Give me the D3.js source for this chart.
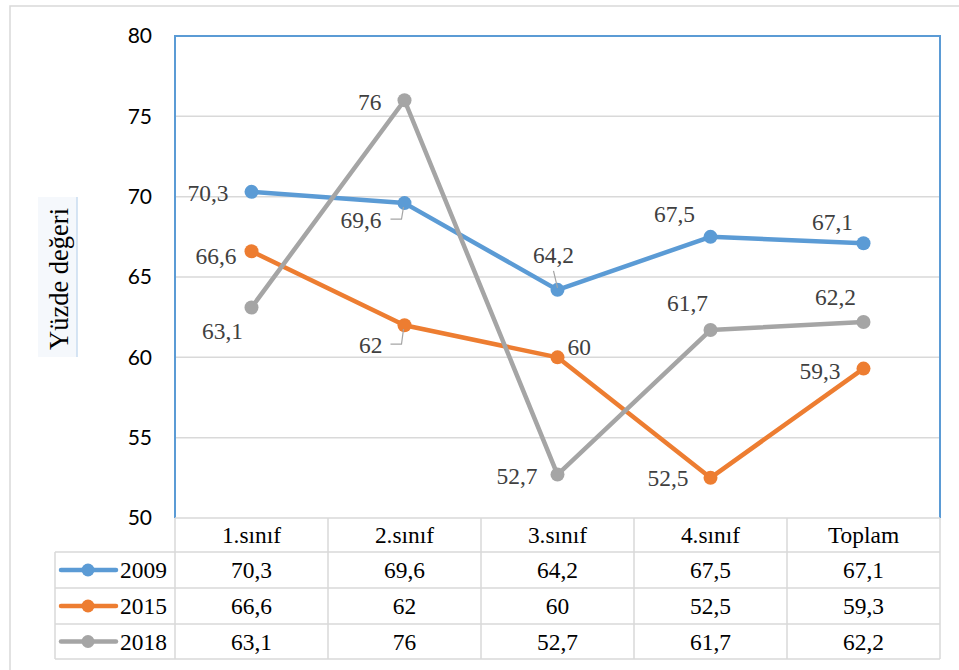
<!DOCTYPE html>
<html><head><meta charset="utf-8">
<script src="https://cdn.jsdelivr.net/npm/d3@7"></script>
<style>html,body{margin:0;padding:0;background:#fff;}svg{display:block;}
.serif{font-family:"Liberation Serif","Times New Roman","DejaVu Serif",serif;}
.sans{font-family:Lato,"Open Sans",sans-serif;}
</style>
</head><body>
<svg id="chart" width="959" height="670"></svg>
<script>
// ---- data ----
const categories = ["1.sınıf", "2.sınıf", "3.sınıf", "4.sınıf", "Toplam"];
const seriesNames = ["2009", "2015", "2018"];
const values2009 = [70.3, 69.6, 64.2, 67.5, 67.1];
const values2015 = [66.6, 62, 60, 52.5, 59.3];
const values2018 = [63.1, 76, 52.7, 61.7, 62.2];
const yTicks = [50, 55, 60, 65, 70, 75, 80];
const yTitle = "Yüzde değeri";

// ---- styling / label placement (not data) ----
const colors = ["#5b9bd5", "#ed7d31", "#a5a5a5"];
const labelPlace = [
  [[-23, 1, "end"], [-23, 17, "end", "h"], [-4, -35, "middle", "v"], [-36, -23, "middle"], [-31, -21, "middle"]],
  [[-15, 5, "end"], [-22, 20, "end", "h"], [10, -10, "start"], [-22, 0, "end"], [-23, 2, "end"]],
  [[-29, 23, "middle"], [-23, 2, "end"], [-20, 1, "end"], [-23, -27, "middle"], [-28, -25, "middle"]]
];

const fmt = v => String(v).replace(".", ",");
const series = [values2009, values2015, values2018];

const svg = d3.select("#chart");
const plot = {left: 175, right: 940, top: 36, bottom: 518};

// size the serif font so that rendered widths match the reference, whatever serif font resolves
function fitSize(str, targetW, cls) {
  const t = svg.append("text").attr("class", cls).style("font-size", "100px").text(str);
  const w = t.node().getComputedTextLength();
  t.remove();
  return (targetW / w * 100).toFixed(2) + "px";
}
const fs = fitSize("70,3", 41, "serif");
const fsTitle = fitSize(yTitle, 142, "serif");

// outer frame
svg.append("rect").attr("x", 10).attr("y", 6).attr("width", 980).attr("height", 700)
  .attr("fill", "none").attr("stroke", "#d9d9d9").attr("stroke-width", 1.5);

const x = d3.scaleBand().domain(categories).range([plot.left, plot.right]);
const y = d3.scaleLinear().domain([50, 80]).range([plot.bottom, plot.top]);

svg.append("g").selectAll("line").data(yTicks.filter(t => t > 50 && t < 80)).join("line")
  .attr("x1", plot.left).attr("x2", plot.right)
  .attr("y1", d => y(d)).attr("y2", d => y(d))
  .attr("stroke", "#d9d9d9").attr("stroke-width", 1.5);

const yAxis = d3.axisLeft(y).tickValues(yTicks).tickSize(0).tickPadding(23);
const gy = svg.append("g").attr("transform", `translate(${plot.left},0)`).call(yAxis);
gy.select(".domain").remove();
gy.attr("font-family", null).attr("font-size", null);
gy.selectAll("text").attr("class", "sans").style("font-size", "21px").attr("fill", "#000");

svg.append("path")
  .attr("d", `M${plot.left},${plot.bottom} V${plot.top} H${plot.right} V${plot.bottom}`)
  .attr("fill", "none").attr("stroke", "#5b9bd5").attr("stroke-width", 2);

svg.append("rect").attr("x", 38).attr("y", 197).attr("width", 39).attr("height", 160)
  .attr("fill", "#f5f8fc");
svg.append("line").attr("x1", 77).attr("x2", 77).attr("y1", 197).attr("y2", 357)
  .attr("stroke", "#c9dcf0").attr("stroke-width", 1.5);
svg.append("text").attr("class", "serif").attr("transform", "translate(59,279) rotate(-90)")
  .attr("text-anchor", "middle").attr("dominant-baseline", "central")
  .style("font-size", fsTitle).attr("fill", "#000").text(yTitle);

const rowTop = [518, 552, 588, 624];
const rowH = [34, 36, 36, 35];
const tableLeft = 55;
const grid = svg.append("g").attr("stroke", "#d9d9d9").attr("stroke-width", 1.5).attr("fill", "none");
grid.append("line").attr("x1", plot.left).attr("x2", plot.right).attr("y1", 518).attr("y2", 518);
[552, 588, 624, 659].forEach(yy => grid.append("line").attr("x1", tableLeft).attr("x2", plot.right).attr("y1", yy).attr("y2", yy));
grid.append("line").attr("x1", tableLeft).attr("x2", tableLeft).attr("y1", 552).attr("y2", 659);
categories.forEach(c => grid.append("line").attr("x1", x(c)).attr("x2", x(c)).attr("y1", 518).attr("y2", 659));
grid.append("line").attr("x1", plot.right).attr("x2", plot.right).attr("y1", 518).attr("y2", 659);

svg.append("g").selectAll("text").data(categories).join("text").attr("class", "serif")
  .attr("x", d => x(d) + x.bandwidth() / 2).attr("y", 535)
  .attr("text-anchor", "middle").attr("dominant-baseline", "central")
  .style("font-size", fs).attr("fill", "#000").text(d => d);

series.forEach((vals, si) => {
  const cy = rowTop[si + 1] + rowH[si + 1] / 2;
  const g = svg.append("g");
  g.append("line").attr("x1", 61).attr("x2", 116).attr("y1", cy).attr("y2", cy)
    .attr("stroke", colors[si]).attr("stroke-width", 4.5).attr("stroke-linecap", "round");
  g.append("circle").attr("cx", 88).attr("cy", cy).attr("r", 6.5).attr("fill", colors[si]);
  g.append("text").attr("class", "serif").attr("x", 120).attr("y", cy).attr("dominant-baseline", "central")
    .style("font-size", fs).attr("fill", "#000").text(seriesNames[si]);
  g.selectAll("text.v").data(vals).join("text").attr("class", "v serif")
    .attr("x", (d, i) => x(categories[i]) + x.bandwidth() / 2).attr("y", cy)
    .attr("text-anchor", "middle").attr("dominant-baseline", "central")
    .style("font-size", fs).attr("fill", "#000").text(d => fmt(d));
});

const line = d3.line().x((d, i) => x(categories[i]) + x.bandwidth() / 2).y(d => y(d));
series.forEach((vals, si) => {
  svg.append("path").datum(vals).attr("d", line).attr("fill", "none")
    .attr("stroke", colors[si]).attr("stroke-width", 4.5).attr("stroke-linejoin", "round");
});
series.forEach((vals, si) => {
  svg.append("g").selectAll("circle").data(vals).join("circle")
    .attr("cx", (d, i) => x(categories[i]) + x.bandwidth() / 2).attr("cy", d => y(d))
    .attr("r", 7).attr("fill", colors[si]);
});

series.forEach((vals, si) => {
  vals.forEach((v, i) => {
    const px = x(categories[i]) + x.bandwidth() / 2, py = y(v);
    const [dx, dy, anchor, leader] = labelPlace[si][i];
    if (leader === "h") {
      svg.append("path").attr("d", `M${px - 14},${py + dy - 1} H${px - 3} L${px - 1},${py + 4}`)
        .attr("fill", "none").attr("stroke", "#a5a5a5").attr("stroke-width", 1.2);
    } else if (leader === "v") {
      svg.append("path").attr("d", `M${px + dx},${py + dy + 16} L${px},${py - 2}`)
        .attr("fill", "none").attr("stroke", "#a5a5a5").attr("stroke-width", 1.2);
    }
    svg.append("text").attr("class", "serif").attr("x", px + dx).attr("y", py + dy)
      .attr("text-anchor", anchor).attr("dominant-baseline", "central")
      .style("font-size", fs).attr("fill", "#404040").text(fmt(v));
  });
});
</script>
</body></html>
